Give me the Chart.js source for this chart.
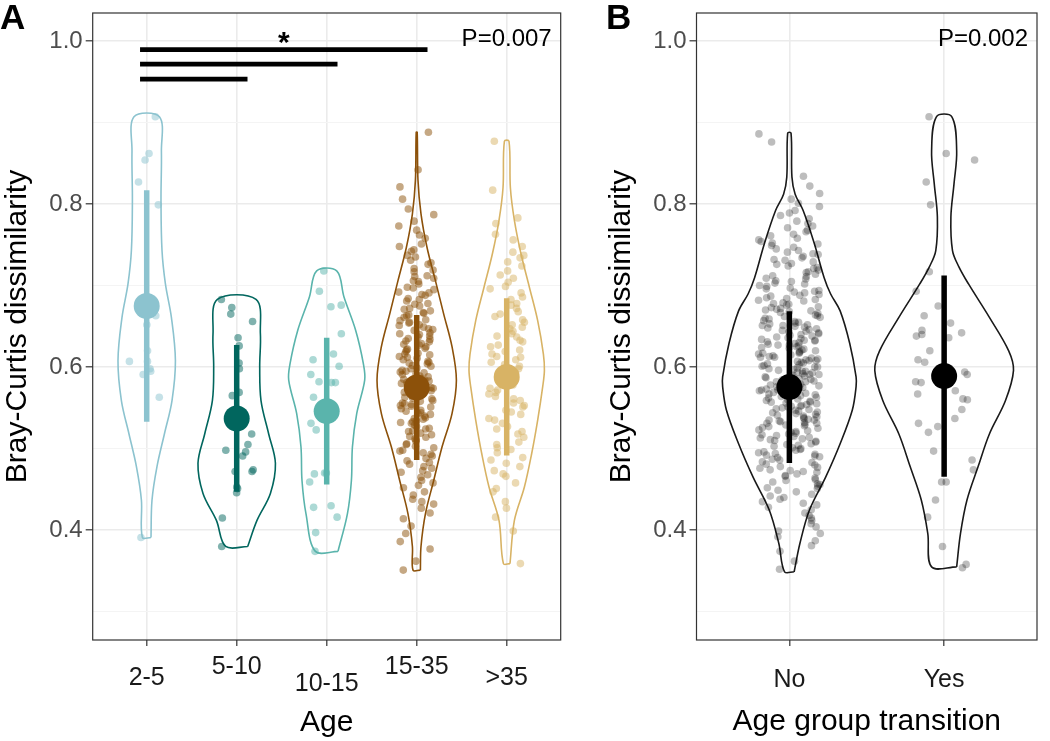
<!DOCTYPE html>
<html>
<head>
<meta charset="utf-8">
<script src="https://cdn.jsdelivr.net/npm/chart.js@4.4.1/dist/chart.umd.min.js"></script>
<style>
  html, body { margin: 0; padding: 0; background: #fff; }
  #wrap { position: relative; width: 1050px; height: 741px; }
  #chartA { position: absolute; left: 0; top: 0; }
  #chartB { position: absolute; left: 590px; top: 0; }
</style>
</head>
<body>
<div id="wrap">
  <canvas id="chartA" width="590" height="741"></canvas>
  <canvas id="chartB" width="460" height="741"></canvas>
</div>
<script>
// Bray-Curtis dissimilarity by age group (A) and by age group transition (B)
const FONT = '"Liberation Sans", Arial, Helvetica, sans-serif';

const ageGroups = ['2-5', '5-10', '10-15', '15-35', '>35'];
const ageColors = ['#8CC3CF', '#01665E', '#5AB4AC', '#8C510A', '#D8B365'];
const transGroups = ['No', 'Yes'];

const yTicks = [0.3, 0.4, 0.5, 0.6, 0.7, 0.8, 0.9, 1.0];
const yTickLabels = ['', '0.4', '', '0.6', '', '0.8', '', '1.0'];

// mean and sd (the big dot and the bar)
const ageMeans = [0.675, 0.537, 0.546, 0.575, 0.588];
const ageSds = [0.142, 0.090, 0.090, 0.089, 0.0965];
const transMeans = [0.5755, 0.589];
const transSds = [0.093, 0.1235];

// pairwise comparisons drawn above panel A (group numbers, bar level, label)
const sigPairs = [[1, 4], [1, 3], [1, 2]];
const sigLevels = [0.9893, 0.9715, 0.9531];
const sigLabels = ['*', '', ''];
const pTextA = 'P=0.007';
const pTextB = 'P=0.002';

// dissimilarity values per group
const age2to5 = [0.907, 0.862, 0.854, 0.827, 0.799, 0.663, 0.652, 0.620, 0.607, 0.607, 0.598, 0.595, 0.591, 0.563, 0.391];
const age5to10 = [0.683, 0.673, 0.665, 0.656, 0.636, 0.626, 0.605, 0.598, 0.569, 0.565, 0.518, 0.505, 0.498, 0.496, 0.491, 0.474, 0.472, 0.472, 0.453, 0.451, 0.446, 0.415, 0.380];
const age10to15 = [0.718, 0.693, 0.676, 0.674, 0.641, 0.616, 0.609, 0.601, 0.591, 0.582, 0.581, 0.581, 0.563, 0.531, 0.523, 0.470, 0.470, 0.469, 0.459, 0.428, 0.430, 0.416, 0.397, 0.374];
const age15to35 = [
  0.888, 0.842, 0.821, 0.806, 0.794, 0.787, 0.779, 0.773, 0.768, 0.762, 0.758, 0.751,
  0.748, 0.744, 0.742, 0.737, 0.735, 0.731, 0.728, 0.726, 0.721, 0.719, 0.717, 0.712, 0.711,
  0.709, 0.706, 0.705, 0.702, 0.698, 0.697, 0.695, 0.692, 0.691,
  0.689, 0.688, 0.684, 0.683, 0.681, 0.678, 0.677, 0.675, 0.672, 0.671,
  0.669, 0.667, 0.666, 0.664, 0.663, 0.661, 0.658, 0.657, 0.655, 0.654, 0.652, 0.651,
  0.649, 0.647, 0.646, 0.645, 0.642, 0.641, 0.640, 0.638, 0.637, 0.635, 0.634, 0.632, 0.631,
  0.629, 0.628, 0.627, 0.625, 0.623, 0.622, 0.621, 0.619, 0.617, 0.616, 0.615, 0.613, 0.612, 0.611,
  0.609, 0.607, 0.606, 0.605, 0.604, 0.602, 0.601, 0.599, 0.598, 0.596, 0.595, 0.594, 0.593, 0.592, 0.591,
  0.589, 0.588, 0.586, 0.585, 0.584, 0.583, 0.581, 0.580, 0.579, 0.578, 0.576, 0.575, 0.574, 0.573, 0.572, 0.571,
  0.569, 0.567, 0.566, 0.565, 0.563, 0.562, 0.561, 0.559, 0.558, 0.556, 0.555, 0.554, 0.553, 0.552, 0.551,
  0.549, 0.547, 0.546, 0.544, 0.543, 0.542, 0.540, 0.538, 0.537, 0.536, 0.534, 0.533, 0.532, 0.531,
  0.529, 0.527, 0.525, 0.524, 0.522, 0.521, 0.519, 0.517, 0.515, 0.514, 0.512, 0.511,
  0.509, 0.506, 0.505, 0.503, 0.501, 0.498, 0.497, 0.495, 0.493, 0.491,
  0.488, 0.485, 0.483, 0.481, 0.478, 0.476, 0.473, 0.471,
  0.468, 0.465, 0.461, 0.458, 0.455, 0.452,
  0.447, 0.443, 0.438, 0.435, 0.432,
  0.427, 0.421, 0.414, 0.405, 0.396, 0.386, 0.377, 0.362, 0.351
];
const age35plus = [
  0.877, 0.817, 0.783, 0.776, 0.763, 0.756, 0.748, 0.741,
  0.737, 0.734, 0.729, 0.724, 0.718, 0.713, 0.709, 0.704,
  0.699, 0.696, 0.691, 0.686, 0.683, 0.678, 0.676, 0.672, 0.668, 0.665, 0.662,
  0.658, 0.655, 0.652, 0.649, 0.647, 0.644, 0.641,
  0.638, 0.637, 0.633, 0.631, 0.627, 0.625, 0.621,
  0.619, 0.616, 0.613, 0.612, 0.609, 0.606, 0.603, 0.601,
  0.598, 0.596, 0.593, 0.589, 0.588, 0.585, 0.583, 0.581,
  0.578, 0.574, 0.572, 0.569, 0.567, 0.564, 0.561,
  0.559, 0.556, 0.553, 0.551, 0.547, 0.545, 0.542,
  0.537, 0.535, 0.531, 0.527, 0.524, 0.521,
  0.518, 0.514, 0.508, 0.505, 0.501,
  0.499, 0.495, 0.489, 0.486, 0.482,
  0.478, 0.473, 0.469, 0.466,
  0.458, 0.451, 0.447, 0.435, 0.427, 0.416, 0.399, 0.359
];
const transNo = [
  0.886, 0.876, 0.834, 0.822, 0.813, 0.806, 0.801, 0.797, 0.792,
  0.789, 0.786, 0.782, 0.779, 0.776, 0.773, 0.771,
  0.768, 0.766, 0.763, 0.761, 0.758, 0.756, 0.754, 0.752, 0.751,
  0.749, 0.747, 0.745, 0.743, 0.741, 0.739, 0.738, 0.736, 0.734, 0.732, 0.731,
  0.729, 0.727, 0.726, 0.724, 0.722, 0.721, 0.719, 0.717, 0.716, 0.714, 0.712, 0.711,
  0.709, 0.708, 0.706, 0.705, 0.703, 0.702, 0.700, 0.699, 0.697, 0.696, 0.694, 0.693, 0.692, 0.691,
  0.689, 0.688, 0.687, 0.685, 0.684, 0.683, 0.682, 0.681, 0.679, 0.678, 0.677, 0.676, 0.674, 0.673, 0.672, 0.671, 0.670,
  0.669, 0.668, 0.667, 0.666, 0.664, 0.663, 0.662, 0.661, 0.660, 0.659, 0.657, 0.656, 0.655, 0.654, 0.653, 0.652, 0.651, 0.651, 0.650,
  0.649, 0.648, 0.647, 0.646, 0.645, 0.644, 0.643, 0.642, 0.641, 0.640, 0.639, 0.638, 0.637, 0.636, 0.635, 0.634, 0.633, 0.633, 0.632, 0.631, 0.630,
  0.629, 0.628, 0.627, 0.627, 0.626, 0.625, 0.624, 0.623, 0.622, 0.621, 0.620, 0.619, 0.618, 0.617, 0.617, 0.616, 0.615, 0.614, 0.613, 0.612, 0.612, 0.611, 0.610,
  0.609, 0.608, 0.608, 0.607, 0.606, 0.605, 0.604, 0.603, 0.602, 0.601, 0.600, 0.600, 0.599, 0.598, 0.597, 0.596, 0.595, 0.595, 0.594, 0.593, 0.592, 0.591, 0.591, 0.590,
  0.589, 0.588, 0.588, 0.587, 0.586, 0.585, 0.584, 0.583, 0.582, 0.582, 0.581, 0.580, 0.579, 0.578, 0.577, 0.577, 0.576, 0.575, 0.574, 0.573, 0.572, 0.572, 0.571, 0.570,
  0.569, 0.568, 0.567, 0.567, 0.566, 0.565, 0.564, 0.563, 0.562, 0.561, 0.560, 0.559, 0.558, 0.557, 0.557, 0.556, 0.555, 0.554, 0.553, 0.552, 0.552, 0.551, 0.550,
  0.549, 0.548, 0.547, 0.546, 0.545, 0.544, 0.543, 0.542, 0.541, 0.540, 0.539, 0.538, 0.537, 0.536, 0.535, 0.535, 0.534, 0.533, 0.532, 0.531, 0.531, 0.530,
  0.529, 0.528, 0.527, 0.526, 0.525, 0.523, 0.522, 0.521, 0.520, 0.519, 0.518, 0.517, 0.516, 0.515, 0.514, 0.513, 0.512, 0.511, 0.510,
  0.509, 0.508, 0.506, 0.505, 0.504, 0.503, 0.501, 0.500, 0.499, 0.498, 0.496, 0.495, 0.494, 0.493, 0.492, 0.491, 0.490,
  0.489, 0.487, 0.486, 0.484, 0.483, 0.481, 0.480, 0.478, 0.477, 0.476, 0.474, 0.473, 0.472, 0.471,
  0.469, 0.467, 0.466, 0.464, 0.462, 0.461, 0.459, 0.457, 0.456, 0.454, 0.452, 0.451,
  0.449, 0.447, 0.444, 0.442, 0.440, 0.438, 0.435, 0.433, 0.431,
  0.428, 0.425, 0.421, 0.418, 0.415, 0.412, 0.408, 0.404, 0.399, 0.396, 0.392,
  0.387, 0.381, 0.374, 0.362, 0.352
];
const transYes = [0.907, 0.862, 0.854, 0.827, 0.799, 0.717, 0.693, 0.675, 0.663, 0.645, 0.642, 0.638, 0.636, 0.640, 0.654, 0.620, 0.609, 0.606, 0.594, 0.599, 0.591, 0.581, 0.582, 0.571, 0.567, 0.560, 0.561, 0.548, 0.537, 0.531, 0.527, 0.520, 0.497, 0.486, 0.474, 0.459, 0.459, 0.437, 0.416, 0.380, 0.354, 0.358];

// violin density profiles (relative to the widest violin), bottom to top
const v2to5Levels = [0.391, 0.437, 0.478, 0.518, 0.559, 0.608, 0.661, 0.702, 0.743, 0.804, 0.865, 0.907];
const v2to5Dens = [0.106, 0.131, 0.254, 0.437, 0.625, 0.709, 0.610, 0.462, 0.378, 0.353, 0.363, 0.314];
const v5to10Levels = [0.380, 0.412, 0.445, 0.482, 0.518, 0.559, 0.600, 0.641, 0.683];
const v5to10Dens = [0.272, 0.501, 0.832, 0.956, 0.790, 0.600, 0.568, 0.585, 0.477];
const v10to15Levels = [0.374, 0.420, 0.461, 0.502, 0.543, 0.584, 0.604, 0.645, 0.686, 0.718];
const v10to15Dens = [0.279, 0.511, 0.610, 0.635, 0.741, 0.938, 0.906, 0.716, 0.427, 0.247];
const v15to35Levels = [0.351, 0.380, 0.420, 0.461, 0.502, 0.543, 0.584, 0.625, 0.665, 0.706, 0.747, 0.788, 0.829, 0.888];
const v15to35Dens = [0.091, 0.106, 0.215, 0.420, 0.625, 0.872, 0.980, 0.872, 0.667, 0.462, 0.254, 0.106, 0.032, 0.012];
const v35plusLevels = [0.359, 0.412, 0.453, 0.494, 0.535, 0.576, 0.596, 0.616, 0.657, 0.698, 0.739, 0.780, 0.820, 0.877];
const v35plusDens = [0.081, 0.190, 0.437, 0.617, 0.765, 0.889, 0.931, 0.906, 0.765, 0.560, 0.353, 0.190, 0.091, 0.057];
const vNoLevels = [0.349, 0.384, 0.425, 0.465, 0.506, 0.547, 0.576, 0.588, 0.629, 0.669, 0.690, 0.710, 0.751, 0.792, 0.812, 0.833, 0.887];
const vNoDens = [0.069, 0.152, 0.290, 0.521, 0.729, 0.903, 0.958, 0.958, 0.867, 0.729, 0.591, 0.498, 0.360, 0.198, 0.083, 0.037, 0.024];
const vYesLevels = [0.355, 0.396, 0.437, 0.478, 0.518, 0.559, 0.596, 0.620, 0.661, 0.702, 0.723, 0.743, 0.784, 0.825, 0.865, 0.907];
const vYesDens = [0.180, 0.235, 0.328, 0.488, 0.650, 0.881, 0.996, 0.927, 0.650, 0.350, 0.212, 0.120, 0.097, 0.142, 0.180, 0.111];

// ---- drawing helpers ----
const JITTER = 0.2;
const HALF_WIDTH = 0.45;

// deterministic horizontal scatter (like geom_jitter), position only
function jitterOffset(i, seed) {
  const s = Math.sin((i + 1) * 12.9898 + seed * 78.233) * 43758.5453;
  return ((s - Math.floor(s)) - 0.5) * 2 * JITTER;
}

function hexToRgba(hex, a) {
  const n = parseInt(hex.slice(1), 16);
  return `rgba(${(n >> 16) & 255},${(n >> 8) & 255},${n & 255},${a})`;
}

function violinOutline(center, levels, dens) {
  const right = levels.map((y, k) => ({ x: center + dens[k] * HALF_WIDTH, y }));
  const left = levels.map((y, k) => ({ x: center - dens[k] * HALF_WIDTH, y })).reverse();
  const pts = right.concat(left);
  pts.push(pts[0]);
  return pts;
}

function groupDatasets(center, seed, vals, levels, dens, mean, sd, lineCol, pointCol, dotCol) {
  return [
    { data: violinOutline(center, levels, dens), showLine: true, fill: false, tension: 0.35,
      borderColor: lineCol, borderWidth: 1.6, pointRadius: 0, order: 4 },
    { data: vals.map((v, i) => ({ x: center + jitterOffset(i, seed), y: v })), showLine: false,
      pointRadius: 3.8, backgroundColor: pointCol, pointBackgroundColor: pointCol, pointBorderWidth: 0, order: 3 },
    { data: [{ x: center, y: mean - sd }, { x: center, y: mean + sd }], showLine: true,
      borderColor: dotCol, borderWidth: 5.5, borderCapStyle: 'butt', pointRadius: 0, order: 2 },
    { data: [{ x: center, y: mean }], showLine: false, pointRadius: 13,
      backgroundColor: dotCol, pointBackgroundColor: dotCol, pointBorderWidth: 0, order: 1 }
  ];
}

function yScale(width, titlePad) {
  return {
    type: 'linear', min: 0.2653, max: 1.0343,
    afterBuildTicks: s => { s.ticks = yTicks.map(v => ({ value: v })); },
    afterFit: s => { s.width = width; s.paddingTop = 0; s.paddingBottom = 0; },
    ticks: { callback: (v, i) => yTickLabels[i], color: '#4D4D4D', padding: 3,
      font: { family: FONT, size: 24 }, autoSkip: false },
    grid: {
      color: c => (yTickLabels[c.index] ? '#EBEBEB' : '#F4F4F4'),
      lineWidth: c => (yTickLabels[c.index] ? 1.6 : 1.0),
      tickColor: c => (yTickLabels[c.index] ? '#333333' : 'rgba(0,0,0,0)'),
      tickWidth: 1.2, tickLength: 7
    },
    border: { display: false },
    title: { display: true, text: 'Bray-Curtis dissimilarity', color: '#000',
      font: { family: FONT, size: 30 }, padding: { top: titlePad, bottom: 0 } }
  };
}

function xScale(n, title, titlePad) {
  return {
    type: 'linear', min: 0.4, max: n + 0.6,
    afterBuildTicks: s => { s.ticks = Array.from({ length: n }, (_, i) => ({ value: i + 1 })); },
    afterFit: s => { s.height = 101; s.paddingLeft = 0; s.paddingRight = 0; },
    ticks: { display: false },
    grid: { color: '#EBEBEB', lineWidth: 1.6, tickColor: '#333333', tickWidth: 1.2, tickLength: 6 },
    border: { display: false },
    title: { display: true, text: title, color: '#000',
      font: { family: FONT, size: 30 }, padding: { top: 0, bottom: titlePad } }
  };
}

const decorPlugin = {
  id: 'decor',
  afterDatasetsDraw(chart, args, o) {
    const { ctx, chartArea: a, scales: { x, y } } = chart;
    ctx.save();
    ctx.fillStyle = '#000';
    // significance labels
    ctx.font = `bold 30px ${FONT}`;
    ctx.textAlign = 'center';
    ctx.textBaseline = 'alphabetic';
    (o.sigLabels || []).forEach((lab, k) => {
      if (!lab) return;
      const p = o.sigPairs[k];
      const xm = (x.getPixelForValue(p[0] - 0.074) + x.getPixelForValue(p[1] + 0.12)) / 2;
      ctx.fillText(lab, xm, y.getPixelForValue(o.sigLevels[k]) + 2);
    });
    // p value
    ctx.font = `24px ${FONT}`;
    ctx.textAlign = 'right';
    ctx.textBaseline = 'middle';
    ctx.fillText(o.pText, a.right - 9, y.getPixelForValue(1.0) - 1.5);
    // panel border
    ctx.strokeStyle = '#333333';
    ctx.lineWidth = 1.2;
    ctx.strokeRect(a.left, a.top, a.right - a.left, a.bottom - a.top);
    // category labels
    ctx.fillStyle = '#1A1A1A';
    ctx.font = `25px ${FONT}`;
    ctx.textAlign = 'center';
    o.labels.forEach((lab, i) => ctx.fillText(lab, x.getPixelForValue(i + 1), o.labelY[i]));
    // panel letter
    ctx.fillStyle = '#000';
    ctx.font = `bold 35px ${FONT}`;
    ctx.textAlign = 'left';
    ctx.textBaseline = 'alphabetic';
    ctx.fillText(o.letter, o.letterX, 28.5);
    ctx.restore();
  }
};

// ---- panel A ----
const ageVals = [age2to5, age5to10, age10to15, age15to35, age35plus];
const ageLevels = [v2to5Levels, v5to10Levels, v10to15Levels, v15to35Levels, v35plusLevels];
const ageDens = [v2to5Dens, v5to10Dens, v10to15Dens, v15to35Dens, v35plusDens];

const dsA = [];
ageGroups.forEach((g, i) => {
  const col = ageColors[i];
  dsA.push(...groupDatasets(i + 1, i + 1, ageVals[i], ageLevels[i], ageDens[i], ageMeans[i], ageSds[i],
    col, hexToRgba(col, 0.5), col));
});
sigPairs.forEach((p, k) => {
  dsA.push({ data: [{ x: p[0] - 0.074, y: sigLevels[k] }, { x: p[1] + 0.12, y: sigLevels[k] }],
    showLine: true, borderColor: '#000', borderWidth: 4.7, borderCapStyle: 'butt', pointRadius: 0, order: 0 });
});

new Chart(document.getElementById('chartA'), {
  type: 'scatter',
  data: { datasets: dsA },
  options: {
    responsive: false, animation: false, events: [],
    layout: { padding: { left: 0, right: 29.3, top: 12, bottom: 0 } },
    plugins: {
      legend: { display: false }, tooltip: { enabled: false },
      decor: { letter: 'A', letterX: 0, pText: pTextA, labels: ageGroups,
        labelY: [677.7, 667.3, 684.3, 666.7, 677.7],
        sigPairs: sigPairs, sigLevels: sigLevels, sigLabels: sigLabels }
    },
    scales: { x: xScale(ageGroups.length, 'Age', 0), y: yScale(92.7, 0) }
  },
  plugins: [decorPlugin]
});

// ---- panel B ----
const transVals = [transNo, transYes];
const transLevels = [vNoLevels, vYesLevels];
const transDens = [vNoDens, vYesDens];
const dsB = [];
transGroups.forEach((g, i) => {
  dsB.push(...groupDatasets(i + 1, i + 11, transVals[i], transLevels[i], transDens[i], transMeans[i], transSds[i],
    '#1A1A1A', 'rgba(0,0,0,0.26)', '#000'));
});

new Chart(document.getElementById('chartB'), {
  type: 'scatter',
  data: { datasets: dsB },
  options: {
    responsive: false, animation: false, events: [],
    layout: { padding: { left: 0, right: 0.5, top: 12, bottom: 0 } },
    plugins: {
      legend: { display: false }, tooltip: { enabled: false },
      decor: { letter: 'B', letterX: 16, pText: pTextB, labels: transGroups, labelY: [680, 680] }
    },
    scales: { x: xScale(transGroups.length, 'Age group transition', 1.3), y: yScale(106.5, 14) }
  },
  plugins: [decorPlugin]
});
</script>
</body>
</html>
